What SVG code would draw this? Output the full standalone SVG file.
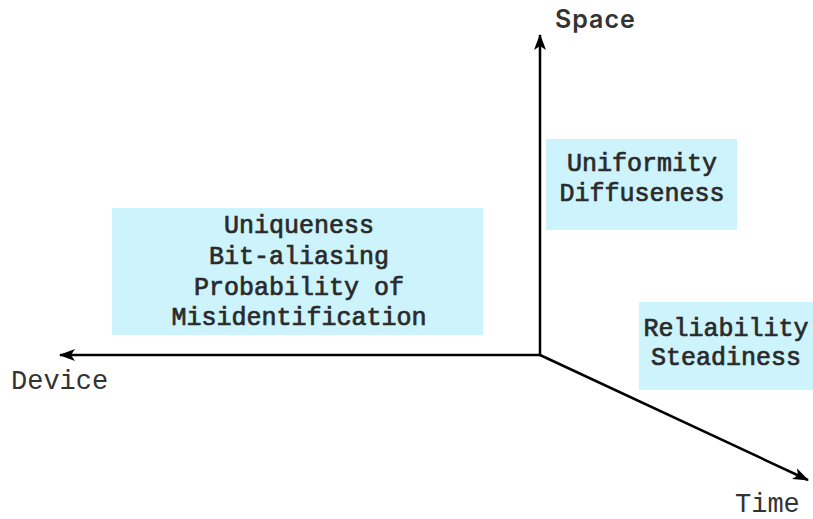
<svg xmlns="http://www.w3.org/2000/svg" width="813" height="519" viewBox="0 0 813 519">
<style>
.box{fill:#cdf3fc}
.t{font-family:"Liberation Mono","Courier New",monospace;font-size:25px;fill:#2a2a2a;stroke:#2a2a2a;stroke-width:0.7;text-anchor:middle}
.ax{font-family:"Liberation Mono","Courier New",monospace;font-size:27px;fill:#333}
.sp{font-family:"Inter","Open Sans",sans-serif;font-weight:600;font-size:25px;letter-spacing:1px;fill:#333}
.axis{stroke:#000;stroke-width:2.5;fill:none;marker-end:url(#ah)}
</style>
<defs>
<marker id="ah" viewBox="0 0 16 12" refX="15" refY="6" markerWidth="16" markerHeight="12" markerUnits="userSpaceOnUse" orient="auto">
<path d="M0,0 L16,6 L0,12 L4,6 Z" fill="#000"/>
</marker>
</defs>
<rect width="813" height="519" fill="#fff"/>
<g id="node-uniformity">
<rect class="box" x="546" y="139" width="191" height="91"/>
<text class="t" x="642" y="171">Uniformity</text>
<text class="t" x="642" y="201">Diffuseness</text>
</g>
<g id="node-uniqueness">
<rect class="box" x="112" y="208" width="371" height="127"/>
<text class="t" x="299" y="233">Uniqueness</text>
<text class="t" x="299" y="264">Bit-aliasing</text>
<text class="t" x="299" y="295">Probability of</text>
<text class="t" x="299" y="325">Misidentification</text>
</g>
<g id="node-reliability">
<rect class="box" x="639" y="302" width="174" height="88"/>
<text class="t" x="726" y="336">Reliability</text>
<text class="t" x="726" y="365">Steadiness</text>
</g>
<g id="connectors">
<line class="axis" x1="540" y1="355" x2="540" y2="35"/>
<line class="axis" x1="540" y1="355" x2="60" y2="355"/>
<line class="axis" x1="540" y1="355" x2="808" y2="480"/>
</g>
<g id="labels">
<text class="sp" x="555" y="28">Space</text>
<text class="ax" x="11" y="389">Device</text>
<text class="ax" x="735" y="512">Time</text>
</g>
</svg>
